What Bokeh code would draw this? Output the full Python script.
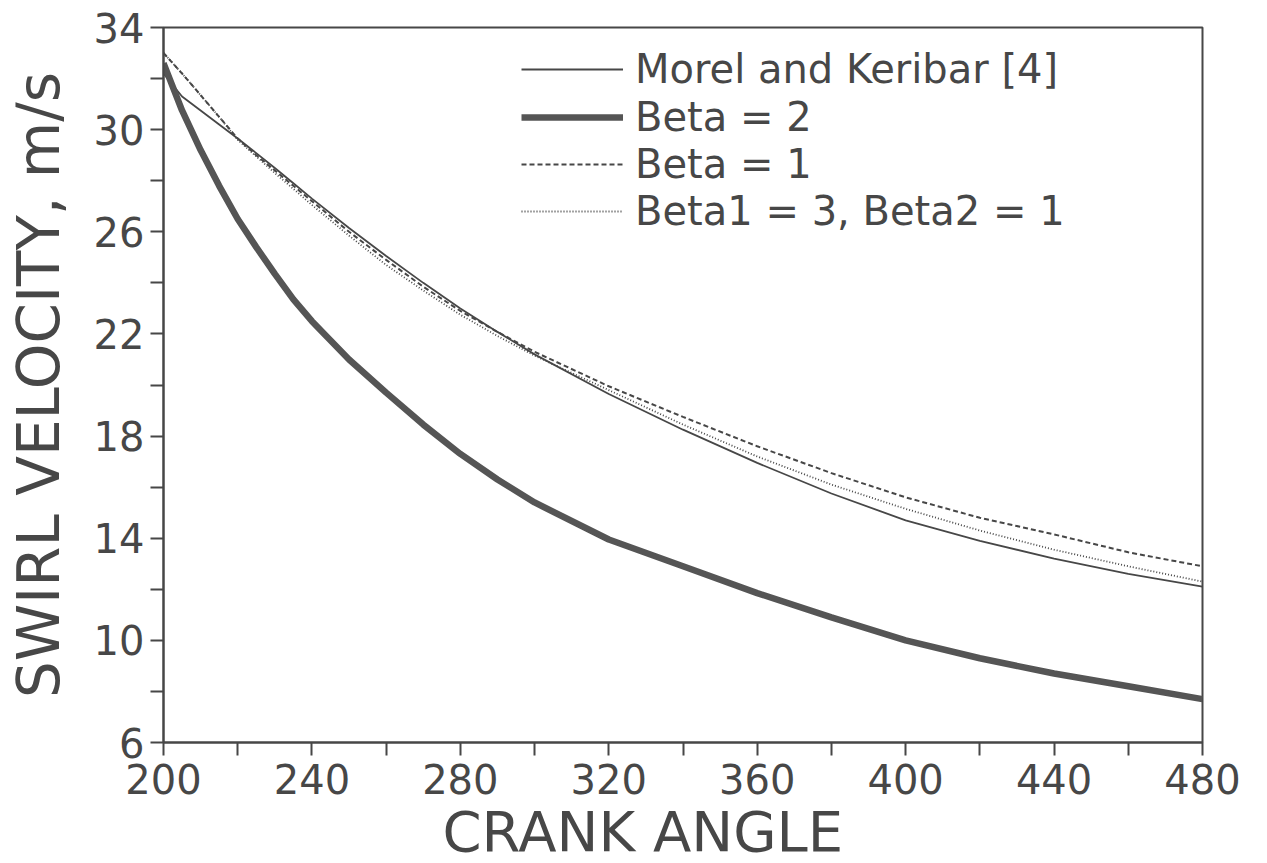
from bokeh.plotting import figure
from bokeh.models import Range1d, Legend, LegendItem, FixedTicker, Title
from bokeh.embed import file_html
from bokeh.resources import INLINE

# Crank angle samples (degrees)
crank_angle = [200, 205, 210, 215, 220, 225, 230, 235, 240, 250, 260, 270, 280, 290, 300,
               320, 340, 360, 380, 400, 420, 440, 460, 480]

# Swirl velocity series (m/s)
morel_keribar = [32.2, 31.3, 30.75, 30.2, 29.65, 29.08, 28.5, 27.9, 27.3, 26.15, 25.05, 24.0, 23.0, 22.08, 21.2,
                 19.65, 18.25, 16.95, 15.75, 14.7, 13.9, 13.2, 12.6, 12.1]
beta_2 = [32.6, 30.75, 29.2, 27.8, 26.5, 25.4, 24.35, 23.35, 22.5, 21.0, 19.7, 18.45, 17.3, 16.3, 15.4,
          13.95, 12.9, 11.85, 10.9, 10.0, 9.3, 8.7, 8.2, 7.7]
beta_1 = [33.0, 32.2, 31.35, 30.5, 29.65, 29.0, 28.4, 27.8, 27.2, 26.0, 24.9, 23.85, 22.9, 22.08, 21.3,
          19.95, 18.75, 17.6, 16.55, 15.6, 14.8, 14.15, 13.45, 12.9]
beta1_3_beta2_1 = [33.0, 32.2, 31.35, 30.5, 29.6, 28.95, 28.3, 27.68, 27.05, 25.85, 24.7, 23.7, 22.75, 21.92, 21.15,
                   19.8, 18.45, 17.2, 16.1, 15.15, 14.3, 13.55, 12.9, 12.3]

series_labels = ["Morel and Keribar [4]", "Beta = 2", "Beta = 1", "Beta1 = 3, Beta2 = 1"]

x_ticks = [200, 240, 280, 320, 360, 400, 440, 480]
x_minor_ticks = [220, 260, 300, 340, 380, 420, 460]
y_ticks = [6, 10, 14, 18, 22, 26, 30, 34]
y_minor_ticks = [8, 12, 16, 20, 24, 28, 32]

x_title = "CRANK ANGLE"
y_title = "SWIRL VELOCITY, m/s"

INK = "#474747"
FONT = "DejaVu Sans"

p = figure(width=1267, height=863, output_backend="svg", toolbar_location=None,
           x_range=Range1d(200, 480), y_range=Range1d(6, 34),
           min_border_left=163, min_border_right=65, min_border_top=27, min_border_bottom=120,
           background_fill_color="white", border_fill_color="white")

p.grid.visible = False
p.outline_line_color = INK
p.outline_line_width = 2

r1 = p.line(crank_angle, morel_keribar, line_color=INK, line_width=1.8)
r2 = p.line(crank_angle, beta_2, line_color="#555555", line_width=6.5)
r3 = p.line(crank_angle, beta_1, line_color=INK, line_width=2, line_dash="5 3")
r4 = p.line(crank_angle, beta1_3_beta2_1, line_color=INK, line_width=1.8, line_dash="1 2")

for ax in (p.xaxis[0], p.yaxis[0]):
    ax.axis_line_color = INK
    ax.axis_line_width = 2
    ax.major_tick_line_color = INK
    ax.minor_tick_line_color = INK
    ax.major_tick_line_width = 2
    ax.minor_tick_line_width = 2
    ax.major_tick_in = 0
    ax.minor_tick_in = 0
    ax.major_tick_out = 13
    ax.minor_tick_out = 13
    ax.major_label_text_font = FONT
    ax.major_label_text_font_size = "40px"
    ax.major_label_text_color = INK
    ax.axis_label_text_font = FONT
    ax.axis_label_text_font_style = "normal"
    ax.axis_label_text_color = INK

p.xaxis.ticker = FixedTicker(ticks=x_ticks, minor_ticks=x_minor_ticks)
p.yaxis.ticker = FixedTicker(ticks=y_ticks, minor_ticks=y_minor_ticks)
p.yaxis.axis_label = y_title
p.yaxis.axis_label_text_font_size = "58px"
p.xaxis.major_label_standoff = 8
p.yaxis.major_label_standoff = 6
p.yaxis.axis_label_standoff = 18

# x-axis title, placed left of centre as in the original
p.add_layout(Title(text=x_title, align="left", offset=279, standoff=0,
                   text_font=FONT, text_font_size="56px", text_font_style="normal",
                   text_color=INK, text_line_height=0.8), "below")

# one single-row legend per series so the row spacing can follow the original
legend_rows_y = [650, 602, 555, 508]
for lab, r, ly in zip(series_labels, [r1, r2, r3, r4], legend_rows_y):
    lg = Legend(items=[LegendItem(label=lab, renderers=[r])],
                location=(358, ly), orientation="vertical",
                glyph_width=102, glyph_height=40, label_standoff=12, spacing=0,
                padding=0, margin=0, border_line_alpha=0, background_fill_alpha=0,
                label_text_font=FONT, label_text_font_size="40px", label_text_color=INK,
                label_text_baseline="middle")
    p.add_layout(lg)

open("out.html", "w").write(file_html(p, INLINE))
